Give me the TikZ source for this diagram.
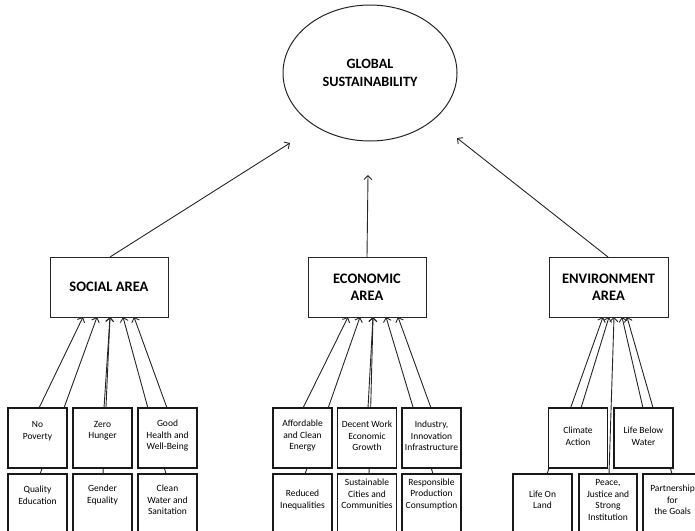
\documentclass[tikz,border=0pt]{standalone}
\usepackage{fontspec}
\setmainfont{Carlito}
\usetikzlibrary{arrows.meta,shapes.geometric,backgrounds}
\begin{document}
\begin{tikzpicture}[x=1pt,y=-1pt,
  sdgbox/.style={draw=black!90, line width=1.7pt, fill=white, minimum width=59pt, minimum height=60pt, inner sep=0pt, outer sep=0pt},
  areabox/.style={draw=black!85, line width=1pt, fill=white, minimum width=118pt, minimum height=60pt, outer sep=0pt, inner sep=0pt, align=center, font=\fontsize{14.5}{17.5}\selectfont\bfseries},
  sdgtxt/.style={align=center, inner sep=0pt, font=\fontsize{9.5}{11.5}\selectfont},
  arr/.style={draw=black!85, line width=0.9pt, -{Straight Barb[length=4pt,width=8pt]}}
]
\useasboundingbox (0,0) rectangle (695,530);

% global
\node[draw=black!85, line width=1pt, ellipse, minimum width=174pt, minimum height=136pt, inner sep=0pt, align=center, font=\fontsize{14.2}{18}\selectfont\bfseries] (gs) at (370,73) {GLOBAL\\SUSTAINABILITY};
\coordinate (gsL) at (290,143);
\coordinate (gsM) at (368,175);
\coordinate (gsR) at (457,138);

% areas
\node[areabox] (soc) at (109,287) {SOCIAL AREA};
\node[areabox] (eco) at (367,287) {ECONOMIC\\AREA};
\node[areabox, minimum width=119pt] (env) at (608.5,287) {ENVIRONMENT\\AREA};

% row 1 boxes
\node[sdgbox] (np) at (37.5,438) {};
\node[sdgbox] (zh) at (102.5,438) {};
\node[sdgbox] (gh) at (167.5,438) {};
\node[sdgbox] (ae) at (302.5,438) {};
\node[sdgbox] (dw) at (367,438) {};
\node[sdgbox] (ii) at (431.5,438) {};
\node[sdgbox] (ca) at (578,438) {};
\node[sdgbox] (lbw) at (643.5,438) {};
% row 2 boxes
\node[sdgbox] (qe) at (37.5,504) {};
\node[sdgbox] (ge) at (102.5,504) {};
\node[sdgbox] (cw) at (167.5,504) {};
\node[sdgbox] (ri) at (302.5,504) {};
\node[sdgbox] (sc) at (367,504) {};
\node[sdgbox] (rp) at (431.5,504) {};
\node[sdgbox] (lol) at (542.5,504) {};
\node[sdgbox, minimum width=58pt] (pj) at (608,504) {};
\node[sdgbox] (pg) at (672.5,504) {};

% texts
\node[sdgtxt] (npT) at (37.5,431) {No\\Poverty};
\node[sdgtxt] (zhT) at (102.5,431) {Zero\\Hunger};
\node[sdgtxt] (ghT) at (167.5,436) {Good\\Health and\\Well-Being};
\node[sdgtxt] (aeT) at (302.5,436) {Affordable\\and Clean\\Energy};
\node[sdgtxt] (dwT) at (367,436) {Decent Work\\Economic\\Growth};
\node[sdgtxt] (iiT) at (431.5,436) {Industry,\\Innovation\\Infrastructure};
\node[sdgtxt] (caT) at (578,436) {Climate\\Action};
\node[sdgtxt] (lbwT) at (643.5,436) {Life Below\\Water};
\node[sdgtxt] (qeT) at (37.5,495) {Quality\\Education};
\node[sdgtxt] (geT) at (102.5,495) {Gender\\Equality};
\node[sdgtxt] (cwT) at (167.5,500) {Clean\\Water and\\Sanitation};
\node[sdgtxt] (riT) at (302.5,500) {Reduced\\Inequalities};
\node[sdgtxt] (scT) at (367,494) {Sustainable\\Cities and\\Communities};
\node[sdgtxt] (rpT) at (431.5,494) {Responsible\\Production\\Consumption};
\node[sdgtxt] (lolT) at (542.5,500) {Life On\\Land};
\node[sdgtxt] (pjT) at (608,500) {Peace,\\Justice and\\Strong\\Institution};
\node[sdgtxt] (pgT) at (672.5,500) {Partnership\\for\\the Goals};

\begin{scope}[on background layer]
% top arrows
\draw[arr] ([xshift=60pt]soc.north west) -- (gsL);
\draw[arr] (eco.north) -- (gsM);
\draw[arr] ([xshift=59pt]env.north west) -- (gsR);
% social
\draw[arr] ([xshift=31pt]np.north west) -- ([xshift=33pt]soc.south west);
\draw[arr] ([xshift=32pt]qe.north west) -- ([xshift=47pt]soc.south west);
\draw[arr] ([xshift=31pt]zh.north west) -- ([xshift=60pt]soc.south west);
\draw[arr] ([xshift=30pt]ge.north west) -- ([xshift=60pt]soc.south west);
\draw[arr] ([xshift=28pt]cw.north west) -- ([xshift=73pt]soc.south west);
\draw[arr] ([xshift=29pt]gh.north west) -- ([xshift=84pt]soc.south west);
% economic
\draw[arr] ([xshift=30pt]ae.north west) -- ([xshift=40pt]eco.south west);
\draw[arr] ([xshift=32pt]ri.north west) -- ([xshift=52pt]eco.south west);
\draw[arr] ([xshift=30.5pt]dw.north west) -- ([xshift=65pt]eco.south west);
\draw[arr] ([xshift=31.5pt]sc.north west) -- ([xshift=65pt]eco.south west);
\draw[arr] ([xshift=31pt]rp.north west) -- ([xshift=78pt]eco.south west);
\draw[arr] ([xshift=29pt]ii.north west) -- ([xshift=90pt]eco.south west);
% environment
\draw[arr] ([xshift=34pt]lol.north west) -- ([xshift=54pt]env.south west);
\draw[arr] ([xshift=32.5pt]ca.north west) -- ([xshift=60pt]env.south west);
\draw[arr] ([xshift=30pt]pj.north west) -- ([xshift=65pt]env.south west);
\draw[arr] ([xshift=29pt]lbw.north west) -- ([xshift=73pt]env.south west);
\draw[arr] ([xshift=29pt]pg.north west) -- ([xshift=78pt]env.south west);
\end{scope}
\end{tikzpicture}
\end{document}
